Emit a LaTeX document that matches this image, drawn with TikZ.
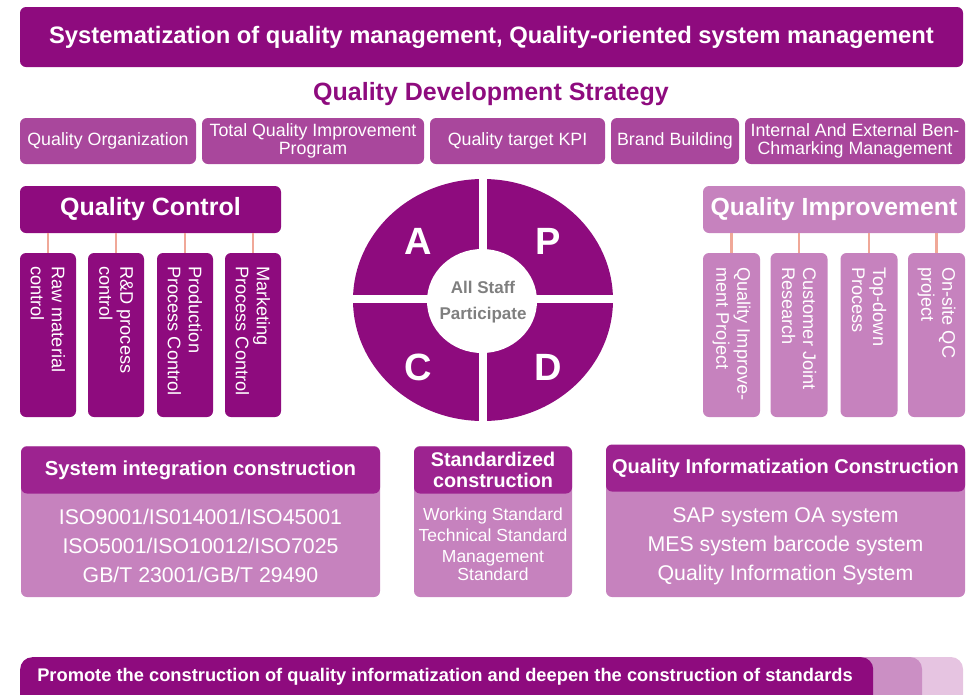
\documentclass[tikz,border=0pt]{standalone}
\usepackage{fontspec}
\setmainfont{Liberation Sans}
\definecolor{qdark}{HTML}{8E0B7E}
\definecolor{qmid}{HTML}{A9479C}
\definecolor{qlight}{HTML}{C682BE}
\definecolor{qhead}{HTML}{9D2390}
\definecolor{qline}{HTML}{F0A898}
\definecolor{qgray}{HTML}{7F7F7F}
\definecolor{qtabA}{HTML}{CB8FC4}
\definecolor{qtabB}{HTML}{E6C4E1}
\begin{document}
\begin{tikzpicture}[x=1pt,y=-1pt,
  box/.style={rounded corners=6pt, inner sep=0pt, draw=none, text=white, align=center},
  vtext/.style={rotate=-90, anchor=west, align=left, inner sep=0pt, text=white, font=\fontsize{18.2}{21}\selectfont},
  link/.style={draw=qline, line width=2.5pt},
  stratbox/.style={box, fill=qmid, minimum height=46pt, font=\fontsize{17.8}{18}\selectfont},
  btxt/.style={text=white, inner sep=0pt, align=center},
  pdca/.style={inner sep=0pt, text=white, font=\bfseries\fontsize{38}{40}\selectfont}
]
\useasboundingbox (0,0) rectangle (967,694);
\clip (0,0) rectangle (967,694);

% top banner
\node[box, fill=qdark, minimum width=943pt, minimum height=60pt, font=\bfseries\fontsize{23.8}{26}\selectfont] (banner) at (491.5,37) {Systematization of quality management, Quality-oriented system management};

\node[inner sep=0pt, text=qdark, font=\bfseries\fontsize{25}{28}\selectfont] (title) at (491,94) {Quality Development Strategy};

% strategy row
\node[stratbox, minimum width=176pt] (s1) at (108,141) {Quality Organization};
\node[stratbox, minimum width=222pt] (s2) at (313,141) {Total Quality Improvement\\Program};
\node[stratbox, minimum width=175pt] (s3) at (517.5,141) {Quality target KPI};
\node[stratbox, minimum width=128pt] (s4) at (675,141) {Brand Building};
\node[stratbox, minimum width=220pt] (s5) at (855,141) {Internal And External Ben-\\Chmarking Management};

% Quality control
\node[box, fill=qdark, minimum width=261pt, minimum height=47pt, font=\bfseries\fontsize{25}{27}\selectfont] (qc) at (150.5,209.5) {Quality Control};
\foreach \n/\x in {1/48,2/116,3/185,4/253}{
  \node[box, fill=qdark, minimum width=56pt, minimum height=164pt] (qc\n) at (\x,335) {};
  \draw[link] (qc\n.north) -- (qc\n.north |- qc.south);
}
\node[vtext] (qct1) at (48,266) {Raw material\\control};
\node[vtext] (qct2) at (116,266) {R\&D process\\control};
\node[vtext] (qct3) at (185,266) {Production\\Process Control};
\node[vtext] (qct4) at (253,266) {Marketing\\Process Control};

% Quality improvement
\node[box, fill=qlight, minimum width=262pt, minimum height=47pt, font=\bfseries\fontsize{24.8}{27}\selectfont] (qi) at (834,209.5) {Quality Improvement};
\foreach \n/\x in {1/731.5,2/799,3/869,4/936.5}{
  \node[box, fill=qlight, minimum width=57pt, minimum height=164pt] (qi\n) at (\x,335) {};
  \draw[link] (qi\n.north) -- (qi\n.north |- qi.south);
}
\node[vtext] (qit1) at (731.5,267) {Quality Improve-\\ment Project};
\node[vtext] (qit2) at (799,267) {Customer Joint\\Research};
\node[vtext] (qit3) at (869,267) {Top-down\\Process};
\node[vtext] (qit4) at (936.5,267) {On-site QC\\project};

% PDCA circle
\fill[qdark] (483,300) ellipse [x radius=130, y radius=121];
\draw[white, line width=8pt] (483,172) -- (483,428);
\draw[white, line width=8pt] (345,299) -- (620,299);
\fill[white] (482,301) ellipse [x radius=55, y radius=52];
\node[pdca] (pa) at (418,241) {A};
\node[pdca] (pp) at (548,241) {P};
\node[pdca] (pc) at (418,367) {C};
\node[pdca] (pd) at (548,367) {D};
\node[inner sep=0pt, text=qgray, font=\bfseries\fontsize{17}{26}\selectfont, align=center] (staff) at (483,302) {All Staff\\Participate};

% bottom boxes
\node[box, fill=qlight, minimum width=359pt, minimum height=151pt] (b1) at (200.5,521.5) {};
\node[box, fill=qhead, minimum width=359pt, minimum height=47pt, font=\bfseries\fontsize{20.3}{22}\selectfont] (b1h) at (200.5,470) {System integration construction};
\node[btxt, font=\fontsize{21.3}{28.8}\selectfont] (b1t) at (200.5,546) {ISO9001/IS014001/ISO45001\\ISO5001/ISO10012/ISO7025\\GB/T 23001/GB/T 29490};

\node[box, fill=qlight, minimum width=158pt, minimum height=151pt] (b2) at (493,521.5) {};
\node[box, fill=qhead, minimum width=158pt, minimum height=47pt, font=\bfseries\fontsize{19.8}{21}\selectfont] (b2h) at (493,470) {Standardized\\construction};
\node[btxt, font=\fontsize{17.5}{21.3}\selectfont] (b2t) at (493,544) {Working Standard\\Technical Standard\\Management\\[-4pt]Standard};

\node[box, fill=qlight, minimum width=359pt, minimum height=151pt] (b3) at (785.5,521.5) {};
\node[box, fill=qhead, minimum width=359pt, minimum height=47pt, font=\bfseries\fontsize{20}{22}\selectfont] (b3h) at (785.5,468) {Quality Informatization Construction};
\node[btxt, font=\fontsize{21.3}{28.8}\selectfont] (b3t) at (785.5,546) {SAP system OA system\\MES system barcode system\\Quality Information System};

% bottom banner with tabs
\fill[qtabB, rounded corners=12pt] (800,657) rectangle (963,720);
\fill[qtabA, rounded corners=12pt] (760,657) rectangle (922,720);
\node[box, fill=qdark, rounded corners=12pt, minimum width=853pt, minimum height=70pt, anchor=north west] (foot) at (20,657) {};
\node[btxt, font=\bfseries\fontsize{18.3}{20}\selectfont] (foott) at (445,677) {Promote the construction of quality informatization and deepen the construction of standards};
\end{tikzpicture}
\end{document}
